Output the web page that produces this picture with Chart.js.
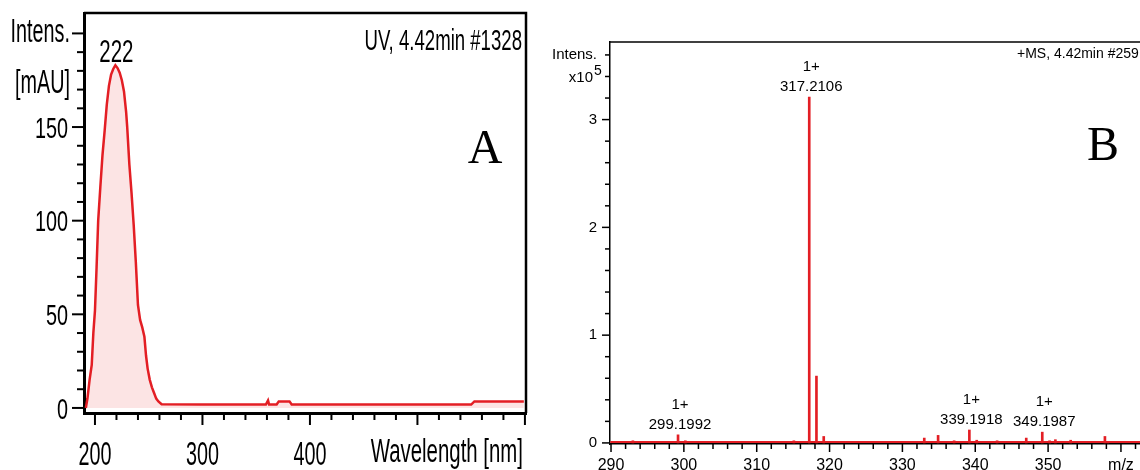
<!DOCTYPE html>
<html>
<head>
<meta charset="utf-8">
<script src="https://cdn.jsdelivr.net/npm/chart.js@4.4.0/dist/chart.umd.min.js"></script>
<style>
    html, body { margin: 0; padding: 0; background: #fff; overflow: hidden; width: 1140px; height: 470px; }
    #uvChart { position: absolute; left: 0; top: 0; }
    #msChart { position: absolute; left: 545px; top: 0; }
</style>
</head>
<body>
<canvas id="uvChart" width="540" height="470"></canvas>
<canvas id="msChart" width="620" height="470"></canvas>
<script>
// --- UV spectrum (panel A) ---
const uvWavelength = [191.5, 193, 195, 197, 198.5, 200, 201.5, 203, 205, 207, 209, 211, 213, 215, 217, 219, 221, 223, 225, 227, 229, 230, 232, 234, 236, 238, 240, 242, 244, 246, 247.5, 249, 251, 253, 255, 257, 259, 262, 300, 359, 361, 362, 369, 371, 381, 383, 550, 553, 599];
const uvIntensity = [0, 5, 15, 23, 40, 52, 75, 100, 118, 135, 148, 162, 172, 178, 181, 183, 181.5, 179, 175, 169, 158, 150, 130, 115, 98, 78, 55, 47, 43, 38, 28, 21, 15, 11, 8, 5, 3.5, 2, 1.8, 1.8, 4, 1.8, 1.8, 3.5, 3.5, 1.8, 1.8, 3.5, 3.5];
const uvPeakLabel = "222";
const uvXLabelValues = [200, 300, 400];
const uvXLabels = ["200", "300", "400"];
const uvXMajor = [200, 300, 400, 500, 600];
const uvYLabelValues = [0, 50, 100, 150];
const uvYLabels = ["0", "50", "100", "150"];
const uvYMajor = [0, 50, 100, 150, 200];

// --- mass spectrum (panel B), intensity in units of 1e5 ---
const msMz = [293.0, 299.1992, 300.2, 315.1, 317.2106, 318.2, 319.2, 333.0, 334.9, 337.1, 339.1918, 340.2, 343.0, 347.0, 349.1987, 350.2, 351.0, 353.1, 357.8, 358.2];
const msIntensity = [0.02, 0.075, 0.02, 0.02, 3.21, 0.62, 0.06, 0.045, 0.07, 0.02, 0.12, 0.025, 0.02, 0.045, 0.10, 0.02, 0.03, 0.025, 0.06, 0.015];
const msLabelled = [299.1992, 317.2106, 339.1918, 349.1987];
const msCharge = "1+";
const msBaseline = [[289.9, 0.008], [364.4, 0.008]];
const msXLabelValues = [290, 300, 310, 320, 330, 340, 350, 360];
const msXLabels = ["290", "300", "310", "320", "330", "340", "350", "m/z"];
const msYLabelValues = [0, 1, 2, 3, 3.6];
const msYLabels = ["0", "1", "2", "3", "Intens."];
const msYMajor = [0, 1, 2, 3];

const SANS = "'Liberation Sans', Arial, sans-serif";
const SERIF = "'Liberation Serif', 'Times New Roman', serif";
const red = "#e31e24";

function steps(from, to, step) {
    const out = [];
    const n = Math.round((to - from) / step);
    for (let i = 0; i <= n; i++) out.push(Math.round((from + i * step) * 1000) / 1000);
    return out;
}
function labelFor(values, labels) {
    return function (value) {
        const i = values.findIndex(v => Math.abs(v - value) < 1e-6);
        return i >= 0 ? labels[i] : "";
    };
}
function isIn(list) {
    return v => list.some(m => Math.abs(m - v) < 1e-6);
}
// condensed text: regular font squeezed horizontally
function squeezed(ctx, text, x, y, size, sx, align) {
    ctx.save();
    ctx.font = size + "px " + SANS;
    ctx.textAlign = align || "center";
    ctx.textBaseline = "alphabetic";
    ctx.translate(x, y);
    ctx.scale(sx, 1);
    ctx.fillText(text, 0, 0);
    ctx.restore();
}

// tick marks, frame and (optionally) squeezed tick labels from the chart's own scales
const axisMarks = {
    id: "axisMarks",
    afterDraw(chart, args, o) {
        const ctx = chart.ctx, a = chart.chartArea;
        const xs = chart.scales.x, ys = chart.scales.y;
        ctx.save();
        ctx.strokeStyle = "#000";
        ctx.fillStyle = "#000";
        ctx.lineWidth = o.tickWidth;
        xs.ticks.forEach(function (t) {
            const p = xs.getPixelForValue(t.value);
            const len = o.xMajor(t.value) ? o.major : o.minor;
            ctx.beginPath(); ctx.moveTo(p, a.bottom); ctx.lineTo(p, a.bottom + len); ctx.stroke();
            if (o.xLabel) {
                const txt = o.xLabel(t.value);
                if (txt) squeezed(ctx, txt, p, o.xBaseline, o.xSize, o.xSx);
            }
        });
        ys.ticks.forEach(function (t) {
            const p = ys.getPixelForValue(t.value);
            const len = o.yMajor(t.value) ? o.major : o.minor;
            ctx.beginPath(); ctx.moveTo(a.left, p); ctx.lineTo(a.left - len, p); ctx.stroke();
            if (o.yLabel) {
                const txt = o.yLabel(t.value);
                if (txt) squeezed(ctx, txt, o.yRight, p + o.ySize * 0.358, o.ySize, o.ySx, "right");
            }
        });
        ctx.lineWidth = o.frameWidth;
        ctx.beginPath();
        ctx.moveTo(a.left, a.top);
        ctx.lineTo(a.right, a.top);
        if (o.rightFrame) ctx.lineTo(a.right, a.bottom);
        ctx.stroke();
        ctx.restore();
    }
};

const captions = {
    id: "captions",
    afterDraw(chart, args, o) {
        const ctx = chart.ctx;
        ctx.save();
        ctx.fillStyle = "#000";
        o.items(chart).forEach(function (c) {
            if (c.sx) {
                squeezed(ctx, c.text, c.x, c.y, c.size, c.sx, c.align);
                return;
            }
            ctx.font = c.font;
            ctx.textAlign = c.align || "center";
            ctx.textBaseline = "alphabetic";
            ctx.fillText(c.text, c.x, c.y);
        });
        ctx.restore();
    }
};

// ---------- panel A ----------
new Chart(document.getElementById("uvChart"), {
    type: "line",
    data: {
        datasets: [{
            data: uvWavelength.map((w, i) => ({ x: w, y: uvIntensity[i] })),
            borderColor: red,
            backgroundColor: "rgba(238, 120, 120, 0.2)",
            borderWidth: 2.5,
            pointRadius: 0,
            tension: 0,
            fill: "origin"
        }]
    },
    options: {
        responsive: false,
        animation: false,
        layout: { padding: { top: 13, right: 14, left: 0, bottom: 0 } },
        plugins: {
            legend: { display: false },
            tooltip: { enabled: false },
            axisMarks: {
                tickWidth: 2, frameWidth: 2.5, major: 12, minor: 7, rightFrame: true,
                xMajor: isIn(uvXMajor), yMajor: isIn(uvYMajor),
                xLabel: labelFor(uvXLabelValues, uvXLabels), xBaseline: 465, xSize: 33, xSx: 0.6,
                yLabel: labelFor(uvYLabelValues, uvYLabels), yRight: 68, ySize: 30, ySx: 0.66
            },
            captions: {
                items: function (chart) {
                    const xs = chart.scales.x, ys = chart.scales.y;
                    const top = uvIntensity.indexOf(Math.max(...uvIntensity));
                    return [
                        { text: uvPeakLabel, x: xs.getPixelForValue(uvWavelength[top]) + 1, y: ys.getPixelForValue(uvIntensity[top]) - 3, size: 32, sx: 0.64 },
                        { text: "Intens.", x: 70, y: 42, align: "right", size: 33, sx: 0.6 },
                        { text: "[mAU]", x: 70, y: 93, align: "right", size: 33, sx: 0.6 },
                        { text: "UV, 4.42min #1328", x: 522, y: 50, align: "right", size: 30, sx: 0.62 },
                        { text: "A", x: 485, y: 163, font: "48px " + SERIF },
                        { text: "Wavelength [nm]", x: 523, y: 462, align: "right", size: 34, sx: 0.6 }
                    ];
                }
            }
        },
        scales: {
            x: {
                type: "linear", min: 189.8, max: 601, bounds: "data",
                afterFit: s => { s.height = 57; },
                afterBuildTicks: s => { s.ticks = steps(200, 600, 20).map(v => ({ value: v })); },
                grid: { display: false, drawTicks: false },
                border: { display: true, color: "#000", width: 3 },
                ticks: { display: false }
            },
            y: {
                type: "linear", min: -2.7, max: 210.9, bounds: "data",
                afterFit: s => { s.width = 84; },
                afterBuildTicks: s => { s.ticks = steps(0, 200, 10).map(v => ({ value: v })); },
                grid: { display: false, drawTicks: false },
                border: { display: true, color: "#000", width: 3 },
                ticks: { display: false }
            }
        }
    },
    plugins: [axisMarks, captions]
});

// ---------- panel B ----------
new Chart(document.getElementById("msChart"), {
    data: {
        datasets: [{
            type: "line",
            data: msBaseline.map(p => ({ x: p[0], y: p[1] })),
            borderColor: red,
            borderWidth: 2,
            pointRadius: 0,
            order: 2
        }, {
            type: "bar",
            data: msMz.map((m, i) => ({ x: m, y: msIntensity[i] })),
            backgroundColor: red,
            barThickness: 2,
            order: 1
        }]
    },
    options: {
        responsive: false,
        animation: false,
        layout: { padding: { top: 42, right: 12, left: 0, bottom: 0 } },
        plugins: {
            legend: { display: false },
            tooltip: { enabled: false },
            axisMarks: {
                tickWidth: 1.5, frameWidth: 1.5, major: 8, minor: 5, rightFrame: false,
                xMajor: isIn(msXLabelValues), yMajor: isIn(msYMajor)
            },
            captions: {
                items: function (chart) {
                    const xs = chart.scales.x, ys = chart.scales.y;
                    const py = ys.getPixelForValue(3.4);
                    const out = [
                        { text: "x10", x: 48, y: py + 6, align: "right", font: "15px " + SANS },
                        { text: "5", x: 49, y: py - 1, align: "left", font: "14px " + SANS },
                        { text: "+MS, 4.42min #259", x: 472, y: 58, align: "left", font: "14px " + SANS },
                        { text: "B", x: 558, y: 160, font: "48px " + SERIF }
                    ];
                    msLabelled.forEach(function (m) {
                        const i = msMz.indexOf(m);
                        const px = xs.getPixelForValue(m) + 2;
                        const top = ys.getPixelForValue(msIntensity[i]);
                        out.push({ text: m.toFixed(4), x: px, y: top - 6, font: "15px " + SANS });
                        out.push({ text: msCharge, x: px, y: top - 26, font: "15px " + SANS });
                    });
                    return out;
                }
            }
        },
        scales: {
            x: {
                type: "linear", min: 289.86, max: 364.4, bounds: "data", offset: false,
                afterFit: s => { s.height = 26; },
                afterBuildTicks: s => { s.ticks = steps(290, 364, 2).map(v => ({ value: v })); },
                grid: { display: false, drawTicks: false, offset: false },
                border: { display: true, color: "#000", width: 1.5 },
                ticks: {
                    autoSkip: false, maxRotation: 0, minRotation: 0, padding: 12, color: "#000",
                    font: { family: SANS, size: 16 },
                    callback: labelFor(msXLabelValues, msXLabels)
                }
            },
            y: {
                type: "linear", min: -0.01, max: 3.72, bounds: "data",
                afterFit: s => { s.width = 65; },
                afterBuildTicks: s => { s.ticks = steps(0, 3.6, 0.2).map(v => ({ value: v })); },
                grid: { display: false, drawTicks: false },
                border: { display: true, color: "#000", width: 1.5 },
                ticks: {
                    autoSkip: false, padding: 13, color: "#000",
                    font: { family: SANS, size: 15 },
                    callback: labelFor(msYLabelValues, msYLabels)
                }
            }
        }
    },
    plugins: [axisMarks, captions]
});
</script>
</body>
</html>
